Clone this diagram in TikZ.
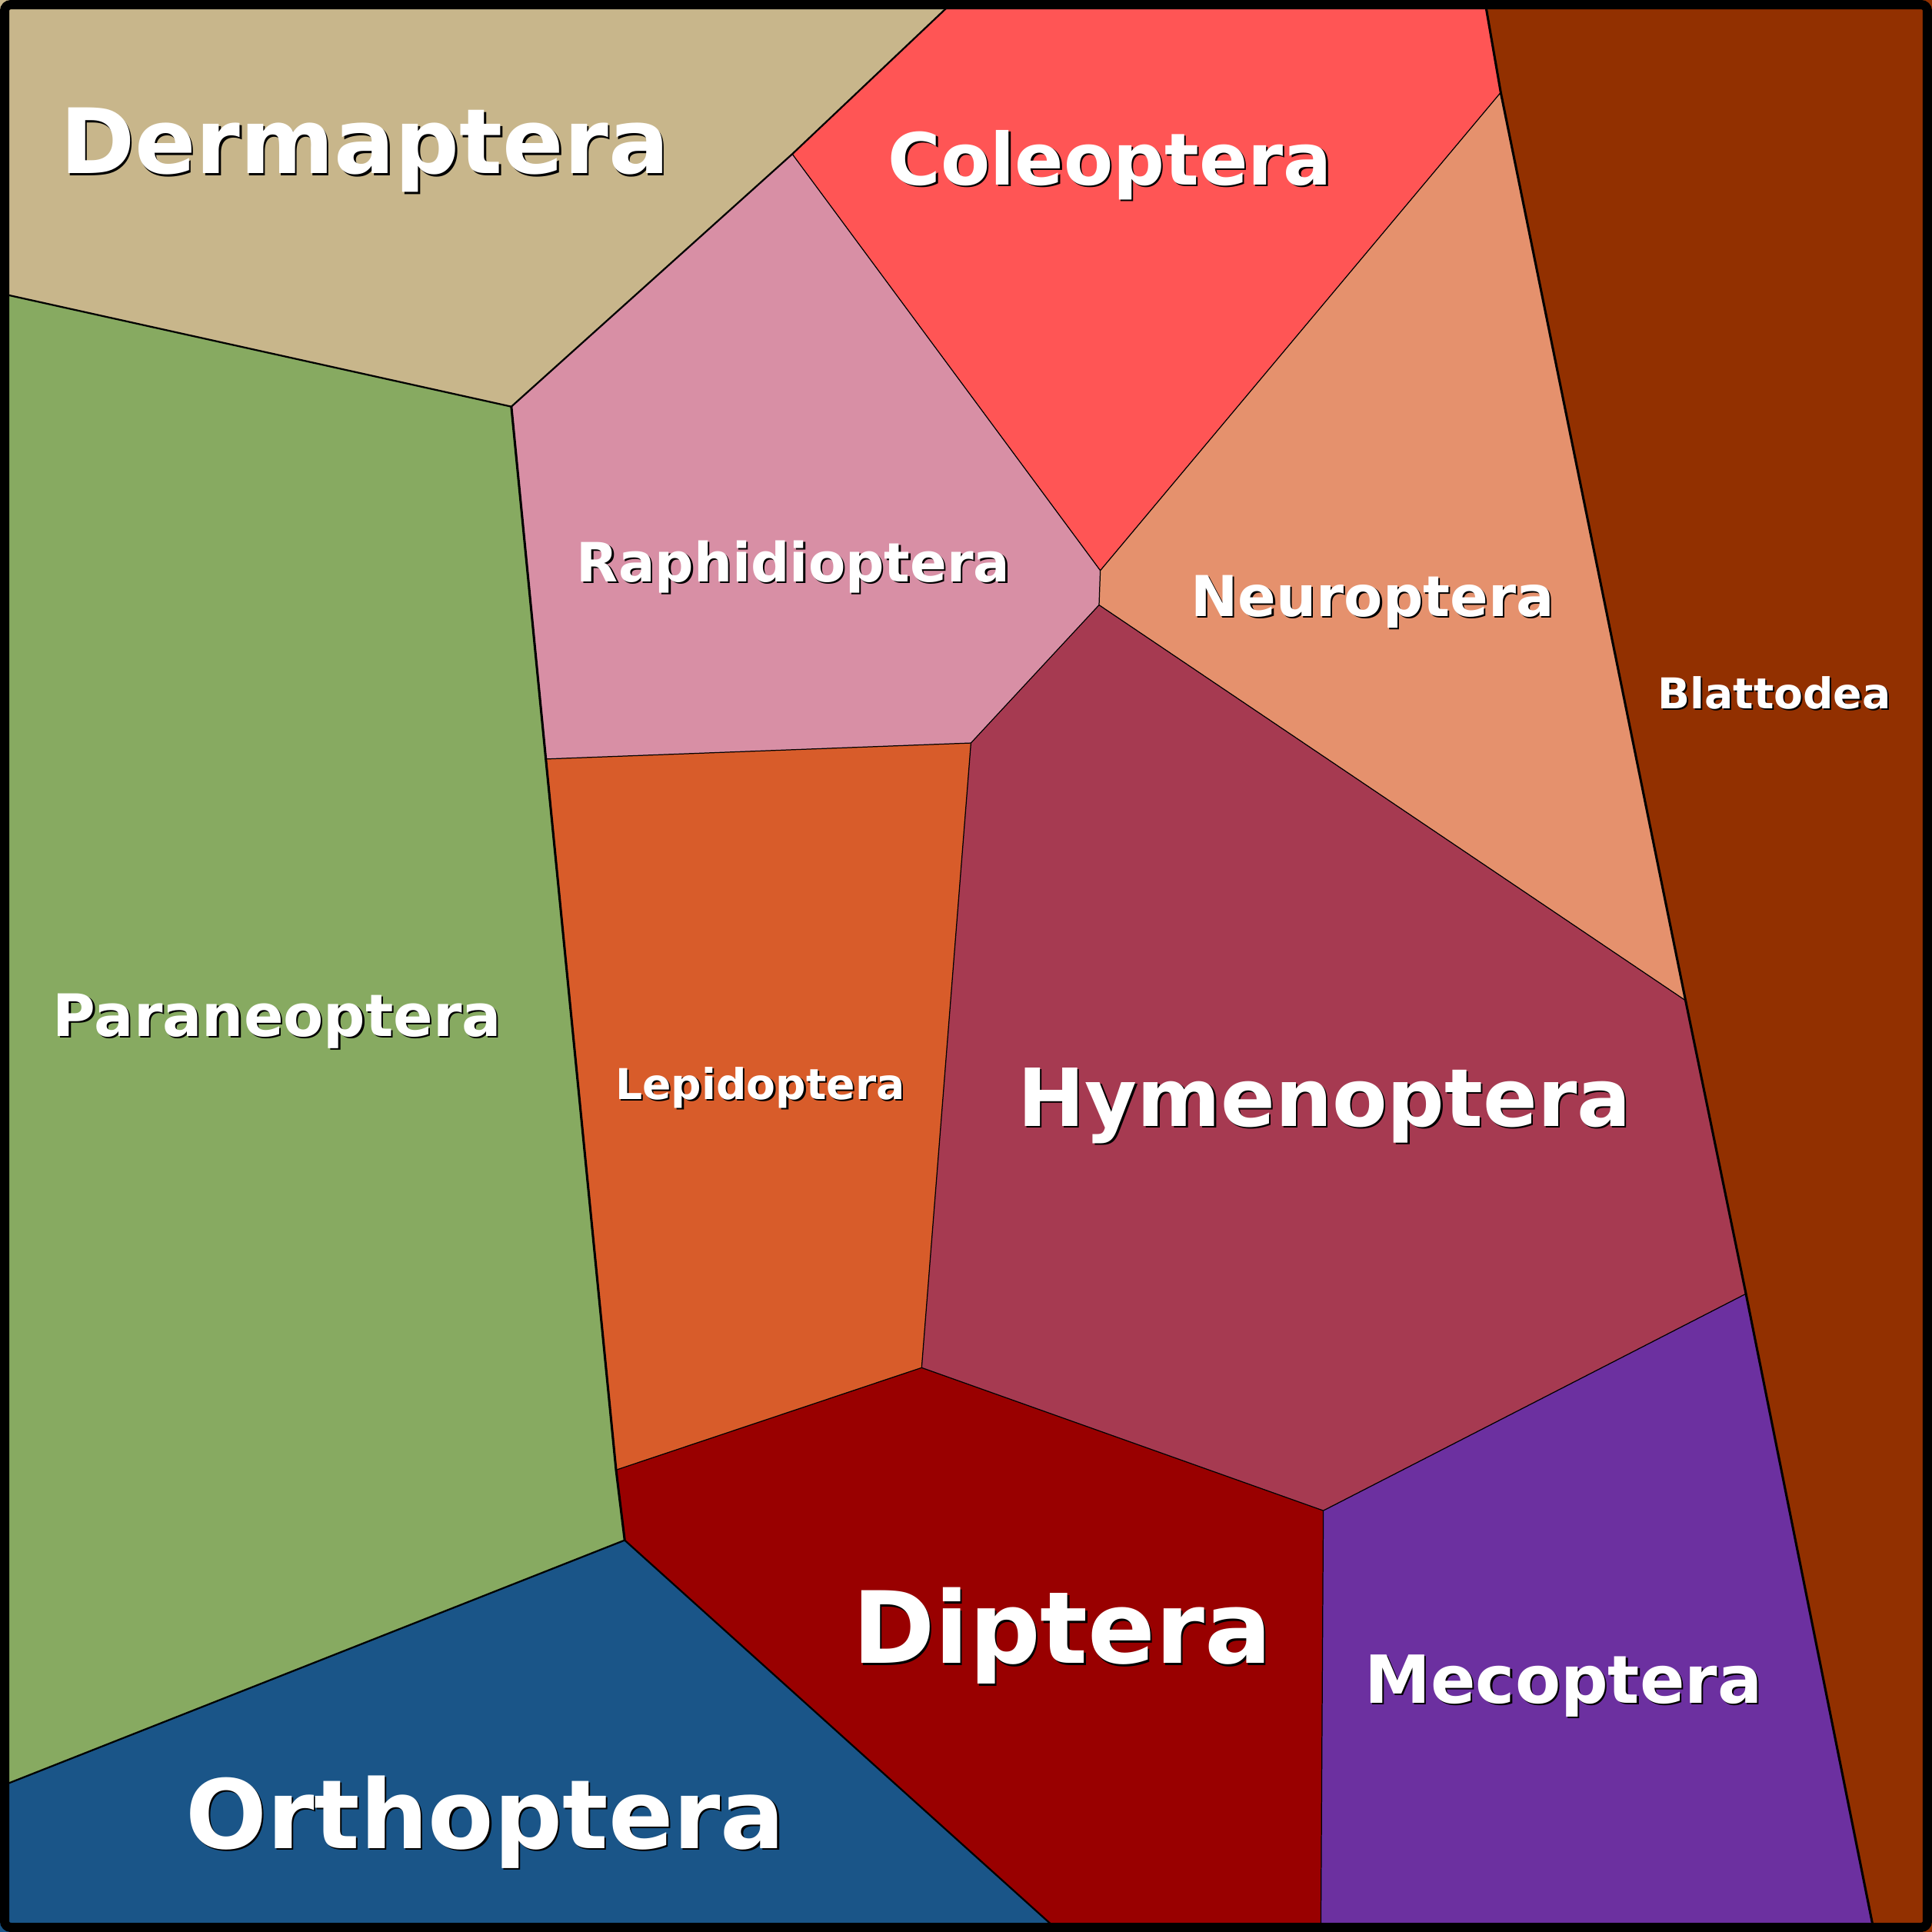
\documentclass[tikz,border=0pt]{standalone}
\usepackage{fontspec}
\setmainfont{DejaVu Sans}
\definecolor{cDerm}{HTML}{C8B68B}
\definecolor{cCole}{HTML}{FF5555}
\definecolor{cBlat}{HTML}{923000}
\definecolor{cRaph}{HTML}{D88FA5}
\definecolor{cNeur}{HTML}{E5916D}
\definecolor{cPara}{HTML}{87AA61}
\definecolor{cLepi}{HTML}{D85C2A}
\definecolor{cHyme}{HTML}{A63A51}
\definecolor{cDipt}{HTML}{990000}
\definecolor{cMeco}{HTML}{6C30A0}
\definecolor{cOrth}{HTML}{1A5588}
\tikzset{
  thinedge/.style={line width=0.22pt, line join=round},
  midedge/.style={line width=0.4pt, line join=round},
  thickedge/.style={line width=0.55pt, line join=round},
  lblw/.style={text=white, anchor=base, inner sep=0pt, font=\bfseries},
  lbls/.style={text=black, anchor=base, inner sep=0pt, font=\bfseries},
}
\newcommand{\mylabel}[5]{%
  \node[lbls, font=\bfseries\fontsize{#4}{#4}\selectfont] (#5s) at ([xshift=0.4pt,yshift=-0.4pt]#1,#2) {#3};
  \node[lblw, font=\bfseries\fontsize{#4}{#4}\selectfont] (#5) at (#1,#2) {#3};}
\begin{document}
\begin{tikzpicture}[x=0.01cm,y=-0.01cm]
\useasboundingbox (0,0) rectangle (1568,1568);
% vertices
\coordinate (A) at (775,0);
\coordinate (B) at (643,125);
\coordinate (C) at (415,330);
\coordinate (D) at (0,238);
\coordinate (E) at (1205,0);
\coordinate (F) at (1218,75);
\coordinate (G) at (893,463);
\coordinate (H) at (892,491);
\coordinate (I) at (788,603);
\coordinate (J) at (443,616);
\coordinate (K) at (1368,812);
\coordinate (L) at (1417,1050);
\coordinate (M) at (1521,1568);
\coordinate (N) at (1074,1226);
\coordinate (O) at (1072,1568);
\coordinate (P) at (748,1110);
\coordinate (Q) at (500,1193);
\coordinate (R) at (507,1250);
\coordinate (S) at (860,1568);
\coordinate (T) at (0,1450);
\coordinate (TL) at (0,0);
\coordinate (TR) at (1568,0);
\coordinate (BR) at (1568,1568);
\coordinate (BL) at (0,1568);
% regions
\fill[cDerm] (TL) -- (A) -- (B) -- (C) -- (D) -- cycle;
\fill[cCole] (A) -- (E) -- (F) -- (G) -- (B) -- cycle;
\fill[cBlat] (E) -- (TR) -- (BR) -- (M) -- (L) -- (K) -- (F) -- cycle;
\fill[cRaph] (B) -- (G) -- (H) -- (I) -- (J) -- (C) -- cycle;
\fill[cNeur] (F) -- (K) -- (H) -- (G) -- cycle;
\fill[cPara] (D) -- (C) -- (J) -- (Q) -- (R) -- (T) -- cycle;
\fill[cLepi] (J) -- (I) -- (P) -- (Q) -- cycle;
\fill[cHyme] (I) -- (H) -- (K) -- (L) -- (N) -- (P) -- cycle;
\fill[cDipt] (Q) -- (P) -- (N) -- (O) -- (S) -- (R) -- cycle;
\fill[cMeco] (N) -- (L) -- (M) -- (O) -- cycle;
\fill[cOrth] (T) -- (R) -- (S) -- (BL) -- cycle;
% thin edges
\draw[thinedge] (B) -- (G) -- (F);
\draw[thinedge] (G) -- (H) -- (I) -- (J);
\draw[thinedge] (H) -- (K);
\draw[thinedge] (I) -- (P) -- (Q);
\draw[thinedge] (P) -- (N) -- (L);
\draw[thinedge] (N) -- (O);
% medium and thick edges
\draw[midedge] (D) -- (C) -- (B) -- (A);
\draw[midedge] (T) -- (R) -- (S);
\draw[thickedge] (E) -- (F) -- (K) -- (L) -- (M);
\draw[thickedge] (C) -- (J) -- (Q) -- (R);
% frame
\draw[line width=0.075cm, rounded corners=0.05cm] (3.75,3.75) rectangle (1564.25,1564.25);
% labels
\mylabel{296}{141}{Dermaptera}{20.8}{derm}
\mylabel{901}{150}{Coleoptera}{16.6}{cole}
\mylabel{644}{472}{Raphidioptera}{12.5}{raph}
\mylabel{1114}{500}{Neuroptera}{13}{neur}
\mylabel{1440}{575}{Blattodea}{9.8}{blat}
\mylabel{225}{841}{Paraneoptera}{13.5}{para}
\mylabel{617}{892}{Lepidoptera}{9.8}{lepi}
\mylabel{1075}{914}{Hymenoptera}{18.5}{hyme}
\mylabel{862}{1350}{Diptera}{23}{dipt}
\mylabel{1269}{1382}{Mecoptera}{15.3}{meco}
\mylabel{394}{1500}{Orthoptera}{22.1}{orth}
\end{tikzpicture}
\end{document}
